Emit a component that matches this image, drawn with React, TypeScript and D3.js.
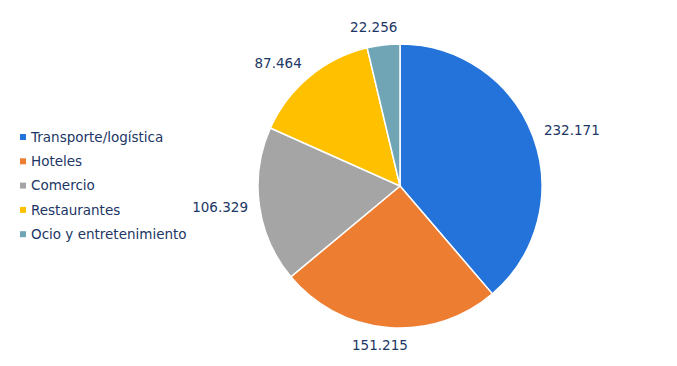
import * as d3 from 'd3';
import React from 'react';

const categories = ['Transporte/logística', 'Hoteles', 'Comercio', 'Restaurantes', 'Ocio y entretenimiento'];
const values = [232171, 151215, 106329, 87464, 22256];
const valueLabels = ['232.171', '151.215', '106.329', '87.464', '22.256'];
const colors = ['#2373DA', '#ED7D31', '#A5A5A5', '#FFC000', '#6FA5B5'];

const width = 677;
const height = 366;
const cx = 400;
const cy = 186;
const radius = 142;
const labelR = 153;
const textColor = '#1C3665';
const font = '"DejaVu Sans", Verdana, sans-serif';
const valueSize = 13.5;

export default function App() {
  const pie = d3.pie<number>().sort(null).value(d => d);
  const arcs = pie(values);
  const arc = d3.arc<d3.PieArcDatum<number>>().innerRadius(0).outerRadius(radius);

  return (
    <svg width={width} height={height} style={{ position: 'absolute', left: 0, top: 0, fontFamily: font }}>
      <rect width={width} height={height} fill="#fff" />
      <g transform={`translate(${cx},${cy})`}>
        {arcs.map((a, i) => (
          <path key={i} d={arc(a) || ''} fill={colors[i]} stroke="#fff" strokeWidth={1.5} />
        ))}
        {arcs.map((a, i) => {
          // place the label box just outside the rim, pushed away from the pie
          const mid = (a.startAngle + a.endAngle) / 2;
          const sx = Math.sin(mid);
          const sy = -Math.cos(mid);
          const w = valueLabels[i].length * valueSize * 0.6;
          const h = valueSize;
          const k = Math.max(-1, Math.min(1, sx * 3));
          const x = sx * labelR + k * w / 2;
          const y = sy * labelR + sy * h / 2;
          return (
            <text key={i} x={x} y={y} dy="0.35em" textAnchor="middle" fontSize={valueSize} fill={textColor}>
              {valueLabels[i]}
            </text>
          );
        })}
      </g>
      <g transform="translate(20,137)">
        {categories.map((c, i) => (
          <g key={c} transform={`translate(0,${i * 24.3})`}>
            <rect x={0} y={-3} width={6} height={6} fill={colors[i]} />
            <text x={11} y={0} dy="0.35em" fontSize={13.5} fill={textColor}>{c}</text>
          </g>
        ))}
      </g>
    </svg>
  );
}
